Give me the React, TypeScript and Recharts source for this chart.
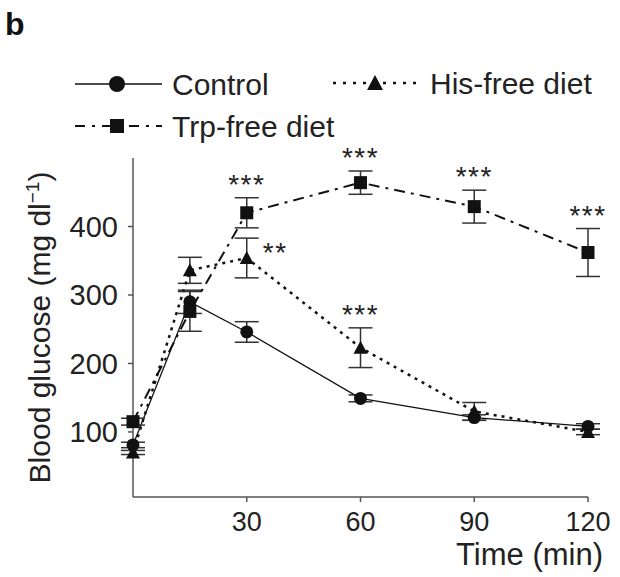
import { ComposedChart, Line, XAxis, YAxis, ErrorBar, ReferenceDot, Label } from "recharts";

const times = [0, 15, 30, 60, 90, 120];
const controlMean = [81, 290, 246, 149, 121, 108];
const controlSem = [4, 17, 15, 5, 4, 4];
const hisMean = [70, 336, 354, 223, 130, 100];
const hisSem = [3, 19, 29, 29, 13, 4];
const trpMean = [115, 276, 420, 464, 429, 362];
const trpSem = [5, 29, 22, 17, 24, 35];

const xTicks = [30, 60, 90, 120];
const yTicks = [100, 200, 300, 400];

// significance marks (vs control)
const hisStars = ["", "", "**", "***", "", ""];
const trpStars = ["", "", "***", "***", "***", "***"];

const font = '"Liberation Sans", Arial, Helvetica, sans-serif';
const ink = "#111";

const data = times.map((t, i) => ({
  t,
  ctrl: controlMean[i],
  ctrlErr: controlSem[i],
  his: hisMean[i],
  hisErr: hisSem[i],
  trp: trpMean[i],
  trpErr: trpSem[i],
}));

const circleDot = (props: any) => {
  const { cx, cy, index } = props;
  if (cx == null || cy == null) return <g key={`c-${index}`} />;
  return <circle key={`c-${index}`} cx={cx} cy={cy} r={6.5} fill={ink} />;
};

const triangleDot = (props: any) => {
  const { cx, cy, index } = props;
  if (cx == null || cy == null) return <g key={`t-${index}`} />;
  return (
    <polygon
      key={`t-${index}`}
      points={`${cx},${cy - 7} ${cx - 7},${cy + 6} ${cx + 7},${cy + 6}`}
      fill={ink}
    />
  );
};

const squareDot = (props: any) => {
  const { cx, cy, index } = props;
  if (cx == null || cy == null) return <g key={`s-${index}`} />;
  return <rect key={`s-${index}`} x={cx - 6.5} y={cy - 6.5} width={13} height={13} fill={ink} />;
};

const starContent = (text: string, side: string) => (props: any) => {
  const { viewBox } = props;
  const cx = viewBox.x + (viewBox.width || 0) / 2;
  const cy = viewBox.y + (viewBox.height || 0) / 2;
  if (side === "right") {
    return (
      <text x={cx + 16} y={cy + 24} fontSize={28} fontFamily={font} fill="#222" letterSpacing={1.5}>
        {text}
      </text>
    );
  }
  return (
    <text x={cx} y={cy - 4} fontSize={28} fontFamily={font} fill="#222" textAnchor="middle" letterSpacing={1.5}>
      {text}
    </text>
  );
};

const annotations = [
  ...times.map((t, i) => ({ t, text: trpStars[i], y: trpMean[i] + trpSem[i], side: "top" })),
  ...times.map((t, i) => ({ t, text: hisStars[i], y: hisMean[i] + hisSem[i], side: t === 30 ? "right" : "top" })),
].filter((a) => a.text);

const xLabel = (props: any) => {
  const { viewBox } = props;
  return (
    <text x={viewBox.x + viewBox.width + 15} y={viewBox.y + 68} textAnchor="end" fontSize={31} fontFamily={font} fill="#222">
      Time (min)
    </text>
  );
};

const yLabel = (props: any) => {
  const { viewBox } = props;
  const x = 50;
  const y = viewBox.y + viewBox.height / 2;
  return (
    <text x={x} y={y} transform={`rotate(-90, ${x}, ${y})`} textAnchor="middle" fontSize={30} fontFamily={font} fill="#222">
      Blood glucose (mg dl
      <tspan dy={-11} fontSize={19}>−1</tspan>
      <tspan dy={11}>)</tspan>
    </text>
  );
};

const LegendMarker = ({ shape, x, y }: { shape: string; x: number; y: number }) => {
  if (shape === "circle") return <circle cx={x} cy={y} r={8} fill={ink} />;
  if (shape === "triangle")
    return <polygon points={`${x},${y - 8} ${x - 8},${y + 7} ${x + 8},${y + 7}`} fill={ink} />;
  return <rect x={x - 7} y={y - 7} width={14} height={14} fill={ink} />;
};

const legendItems = [
  { name: "Control", shape: "circle", dash: undefined, width: 1.3, x: 75, y: 84 },
  { name: "His-free diet", shape: "triangle", dash: "3 7", width: 2.5, x: 333, y: 83 },
  { name: "Trp-free diet", shape: "square", dash: "10 7 3 7", width: 2, x: 75, y: 126 },
];

export default function App() {
  return (
    <div style={{ position: "absolute", left: 0, top: 0, width: 620, height: 577, background: "#fff" }}>
      <ComposedChart width={620} height={577} data={data} margin={{ top: 158, right: 32, left: 0, bottom: 0 }}>
        <XAxis
          dataKey="t"
          type="number"
          domain={[0, 120]}
          ticks={xTicks}
          height={80}
          axisLine={{ stroke: "#555", strokeWidth: 1.5 }}
          tickLine={{ stroke: "#555", strokeWidth: 1.5 }}
          tickSize={5}
          tickMargin={10}
          tick={{ fontSize: 27, fill: "#222", fontFamily: font }}
        >
          <Label content={xLabel} />
        </XAxis>
        <YAxis
          type="number"
          domain={[5, 500]}
          ticks={yTicks}
          width={133}
          allowDataOverflow
          axisLine={{ stroke: "#555", strokeWidth: 1.5 }}
          tickLine={{ stroke: "#555", strokeWidth: 1.5 }}
          tickSize={5}
          tickMargin={10}
          tick={{ fontSize: 29, fill: "#222", fontFamily: font }}
        >
          <Label content={yLabel} />
        </YAxis>
        <Line
          type="linear"
          dataKey="ctrl"
          stroke={ink}
          strokeWidth={1.3}
          dot={circleDot}
          activeDot={false}
          isAnimationActive={false}
        >
          <ErrorBar dataKey="ctrlErr" width={12} stroke="#333" strokeWidth={1.5} direction="y" />
        </Line>
        <Line
          type="linear"
          dataKey="his"
          stroke={ink}
          strokeWidth={2.5}
          strokeDasharray="3 5"
          dot={triangleDot}
          activeDot={false}
          isAnimationActive={false}
        >
          <ErrorBar dataKey="hisErr" width={12} stroke="#333" strokeWidth={1.5} direction="y" />
        </Line>
        <Line
          type="linear"
          dataKey="trp"
          stroke={ink}
          strokeWidth={2}
          strokeDasharray="11 6 3 6"
          dot={squareDot}
          activeDot={false}
          isAnimationActive={false}
        >
          <ErrorBar dataKey="trpErr" width={12} stroke="#333" strokeWidth={1.5} direction="y" />
        </Line>
        {annotations.map((a, i) => (
          <ReferenceDot
            key={`ann-${i}`}
            x={a.t}
            y={a.y}
            r={0}
            fill="none"
            stroke="none"
            label={{ content: starContent(a.text, a.side) }}
          />
        ))}
      </ComposedChart>
      <svg width={620} height={150} style={{ position: "absolute", left: 0, top: 0, pointerEvents: "none" }}>
        <text x={5} y={35} fontSize={32} fontWeight="bold" fontFamily={font} fill={ink}>
          b
        </text>
        {legendItems.map((item) => (
          <g key={item.name}>
            <line
              x1={item.x}
              x2={item.x + 87}
              y1={item.y}
              y2={item.y}
              stroke={ink}
              strokeWidth={item.width}
              strokeDasharray={item.dash}
            />
            <LegendMarker shape={item.shape} x={item.x + 42} y={item.y} />
            <text x={item.x + 97} y={item.y + 11} fontSize={30} fontFamily={font} fill="#222">
              {item.name}
            </text>
          </g>
        ))}
      </svg>
    </div>
  );
}
